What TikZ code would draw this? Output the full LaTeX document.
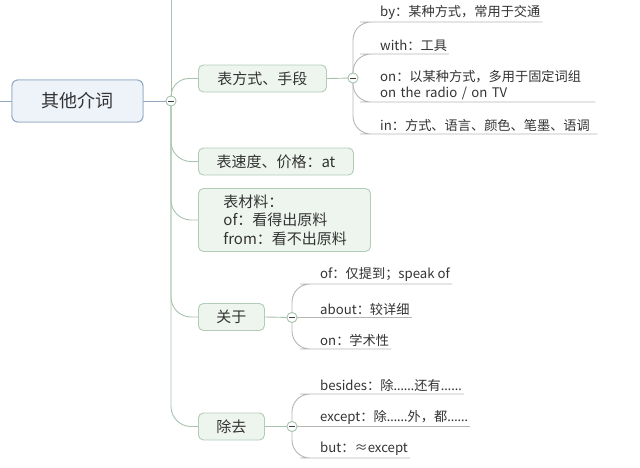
\documentclass[tikz,border=0pt]{standalone}
\usepackage{fontspec}
\setmainfont{Noto Sans CJK SC}
\newfontfamily\latinf{Noto Sans}
\newcommand{\dd}{{\latinf ……}}
\definecolor{rootfill}{HTML}{EEF3FA}
\definecolor{rootdraw}{HTML}{93A8C2}
\definecolor{boxfill}{HTML}{EEF5EF}
\definecolor{boxdraw}{HTML}{B3CCB7}
\definecolor{mainln}{HTML}{A6C3AD}
\definecolor{leafln}{HTML}{B5B5B5}
\definecolor{txt}{HTML}{333333}
\tikzset{
  rootbox/.style={draw=rootdraw, fill=rootfill, rounded corners=6pt, line width=0.9pt,
    minimum width=131pt, minimum height=42pt, font=\fontsize{18}{22}\selectfont, text=txt},
  childbox/.style={draw=boxdraw, fill=boxfill, rounded corners=5pt, line width=0.9pt,
    anchor=west, minimum height=27pt, inner xsep=0pt, font=\fontsize{15}{19}\selectfont, text=txt},
  leaf/.style={anchor=south west, inner xsep=2pt, inner ysep=2pt,
    font=\fontsize{13.2}{15.5}\selectfont, text=txt, align=left},
  mline/.style={draw=mainln, line width=0.9pt},
  lline/.style={draw=leafln, line width=0.9pt},
  minuscirc/.style={circle, draw=mainln, fill=white, line width=0.8pt, minimum size=10pt, inner sep=0pt,
    path picture={\draw[black!75, line width=0.9pt] ([xshift=-3pt]path picture bounding box.center) -- ([xshift=3pt]path picture bounding box.center);}},
}
\begin{document}
\begin{tikzpicture}[x=1pt, y=-1pt]
\useasboundingbox (0,0) rectangle (640,467);
% connectors' anchors
\coordinate (lin) at (0,101);
\coordinate (top) at (171,0);
% root
\node[rootbox] (root) at (77.5,101) {其他介词};
\node[minuscirc] (m) at (171,101) {};
% children
\node[childbox, minimum width=128pt] (b1) at (198,78.5) {表方式、手段};
\node[childbox, minimum width=155pt] (b2) at (198,161.5) {表速度、价格：at};
\node[childbox, minimum height=63pt, align=left, inner xsep=25pt, text width=122pt, font=\fontsize{15}{18.5}\selectfont] (b3) at (198,220) {表材料：\\of：看得出原料\\from：看不出原料};
\node[childbox, minimum width=66pt] (b4) at (198,317) {关于};
\node[childbox, minimum width=66pt] (b5) at (198,426.5) {除去};
\node[minuscirc] (c1) at (353,78) {};
\node[minuscirc] (c4) at (292,317.5) {};
\node[minuscirc] (c5) at (292,426.5) {};
% leaves of b1
\node[leaf] (l11) at (378,22) {by：某种方式，常用于交通};
\node[leaf] (l12) at (378,54) {with：工具};
\node[leaf, text width=213pt] (l13) at (378,102) {on：以某种方式，多用于固定词组\\on the radio / on TV};
\node[leaf, text width=215pt] (l14) at (378,134) {in：方式、语言、颜色、笔墨、语调};
% leaves of b4
\node[leaf] (l41) at (318,284) {of：仅提到；speak of};
\node[leaf] (l42) at (318,317.5) {about：较详细};
\node[leaf] (l43) at (318,349) {on：学术性};
% leaves of b5
\node[leaf] (l51) at (318,394) {besides：除\dd 还有\dd};
\node[leaf] (l52) at (318,426.5) {except：除\dd 外，都\dd};
\node[leaf] (l53) at (318,458) {but：≈except};
% connectors
\draw[draw=rootdraw, line width=0.9pt] (lin) -- (root.west);
\draw[draw=rootdraw, line width=0.9pt] (root.east) -- (m.center);
\draw[mline] (top) -- (m.center);
\draw[mline, rounded corners=18pt] (m.center) |- (b1.west);
\draw[mline, rounded corners=20pt] (m.center) |- (b2.west);
\draw[mline, rounded corners=20pt] (m.center) |- (b3.west);
\draw[mline, rounded corners=20pt] (m.center) |- (b4.west);
\draw[mline, rounded corners=20pt] (m.center) |- (b5.west);
\draw[mline] (b1.east) -- (c1.center);
\draw[mline] (b4.east) -- (c4.center);
\draw[mline] (b5.east) -- (c5.center);
\foreach \c/\l in {c1/l11,c1/l12,c1/l13,c1/l14,c4/l41,c4/l43,c5/l51,c5/l53}{
  \draw[lline, rounded corners=18pt] (\c.center) |- (\l.south west) -- (\l.south east);
}
\draw[lline] (c4.center) -- (l42.south west) -- (l42.south east);
\draw[lline] (c5.center) -- (l52.south west) -- (l52.south east);
% redraw nodes on top
\node[rootbox] at (root) {其他介词};
\foreach \n in {m,c1,c4,c5}{\node[minuscirc] at (\n) {};}
\end{tikzpicture}
\end{document}
